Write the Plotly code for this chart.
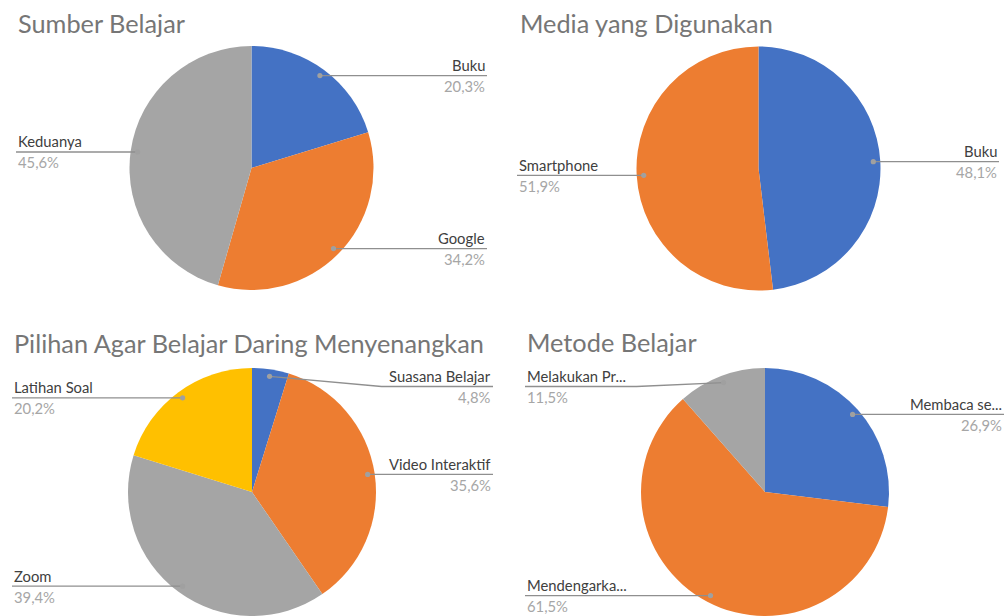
import math
import plotly.graph_objects as go

W, H = 1005, 616

# ---- data ----
sumber_labels = ["Buku", "Google", "Keduanya"]
sumber_values = [20.3, 34.2, 45.6]

media_labels = ["Buku", "Smartphone"]
media_values = [48.1, 51.9]

pilihan_labels = ["Suasana Belajar", "Video Interaktif", "Zoom", "Latihan Soal"]
pilihan_values = [4.8, 35.6, 39.4, 20.2]

metode_labels = ["Membaca se...", "Mendengarka...", "Melakukan Pr..."]
metode_values = [26.9, 61.5, 11.5]

titles = ["Sumber Belajar", "Media yang Digunakan",
          "Pilihan Agar Belajar Daring Menyenangkan", "Metode Belajar"]

BLUE, ORANGE, GRAY, YELLOW = "#4472C4", "#ED7D31", "#A5A5A5", "#FFC000"

charts = [
    dict(labels=sumber_labels, values=sumber_values, colors=[BLUE, ORANGE, GRAY],
         c=(251.5, 168), r=122, title=titles[0], tpos=(16, 23), lx=16, rx=487),
    dict(labels=media_labels, values=media_values, colors=[BLUE, ORANGE],
         c=(758.5, 168.5), r=122, title=titles[1], tpos=(518, 23), lx=517, rx=999),
    dict(labels=pilihan_labels, values=pilihan_values, colors=[BLUE, ORANGE, GRAY, YELLOW],
         c=(252, 492), r=124, title=titles[2], tpos=(12, 343), lx=12, rx=493),
    dict(labels=metode_labels, values=metode_values, colors=[BLUE, ORANGE, GRAY],
         c=(765, 492), r=124, title=titles[3], tpos=(525, 342), lx=525, rx=1004),
]

FONT = "Lato"
TITLE_SIZE = 25.3
LABEL_SIZE = 14.8
TITLE_COLOR = "#767676"
LABEL_COLOR = "#404040"
PCT_COLOR = "#A6A6A6"
LINE_COLOR = "#8F8F8F"
DOT_COLOR = "#A0A0A0"


def px(x):
    return x / W


def py(y):
    return 1 - y / H


fig = go.Figure()
shapes = []
annotations = []

for ch in charts:
    cx, cy = ch["c"]
    r = ch["r"]
    fig.add_trace(go.Pie(
        labels=ch["labels"], values=ch["values"],
        marker=dict(colors=ch["colors"], line=dict(width=0)),
        sort=False, direction="clockwise", rotation=0,
        textinfo="none", hoverinfo="label+percent", showlegend=False,
        domain=dict(x=[px(cx - r), px(cx + r)], y=[py(cy + r), py(cy - r)]),
    ))
    # title
    annotations.append(dict(
        text=ch["title"], x=px(ch["tpos"][0]), y=py(ch["tpos"][1]),
        xref="paper", yref="paper", xanchor="left", yanchor="middle",
        showarrow=False, font=dict(family=FONT, size=TITLE_SIZE, color=TITLE_COLOR)))

    total = sum(ch["values"])
    cum = 0.0
    min_line_y = cy - r + 18.5
    for lab, v in zip(ch["labels"], ch["values"]):
        mid = (cum + v / 2) / total * 2 * math.pi
        cum += v
        d = r - 7
        dx = cx + d * math.sin(mid)
        dy = cy - d * math.cos(mid)
        right = dx > cx
        edge = ch["rx"] if right else ch["lx"]
        ly = max(dy, min_line_y)
        est_w = len(lab) * 7.1 + 5
        if abs(ly - dy) > 0.5:
            ex = edge - est_w if right else edge + est_w
            path = f"M {px(edge)} {py(ly)} L {px(ex)} {py(ly)} L {px(dx)} {py(dy)}"
        else:
            path = f"M {px(edge)} {py(ly)} L {px(dx)} {py(dy)}"
        shapes.append(dict(type="path", path=path, xref="paper", yref="paper",
                           line=dict(color=LINE_COLOR, width=1.3), layer="above"))
        rad = 2.6
        shapes.append(dict(type="circle", xref="paper", yref="paper",
                           x0=px(dx - rad), x1=px(dx + rad), y0=py(dy + rad), y1=py(dy - rad),
                           fillcolor=DOT_COLOR, line=dict(width=0), layer="above"))
        anchor = "right" if right else "left"
        annotations.append(dict(
            text=lab, x=px(edge), y=py(ly - 10.5), xref="paper", yref="paper",
            xanchor=anchor, yanchor="middle", showarrow=False,
            font=dict(family=FONT, size=LABEL_SIZE, color=LABEL_COLOR)))
        pct = f"{v:.1f}".replace(".", ",") + "%"
        annotations.append(dict(
            text=pct, x=px(edge), y=py(ly + 10.5), xref="paper", yref="paper",
            xanchor=anchor, yanchor="middle", showarrow=False,
            font=dict(family=FONT, size=LABEL_SIZE, color=PCT_COLOR)))

fig.update_layout(
    width=W, height=H, margin=dict(l=0, r=0, t=0, b=0),
    paper_bgcolor="white", plot_bgcolor="white",
    shapes=shapes, annotations=annotations,
)

fig.write_html(
    "out.html",
    config={"displayModeBar": False},
    post_script="document.body.style.margin='0';document.body.style.overflow='hidden';",
)
